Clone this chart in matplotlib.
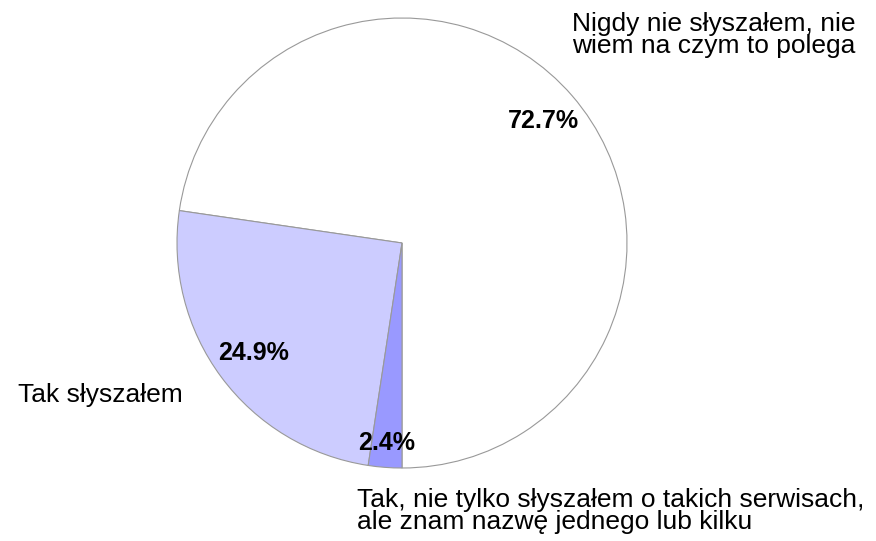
import numpy as np
import matplotlib
matplotlib.use("Agg")
import matplotlib.pyplot as plt

plt.rcParams['font.family'] = ['Liberation Sans', 'DejaVu Sans']

# dane
labels = ['Nigdy nie słyszałem, nie\nwiem na czym to polega',
          'Tak słyszałem',
          'Tak, nie tylko słyszałem o takich serwisach,\nale znam nazwę jednego lub kilku']
values = [72.7, 24.9, 2.4]
colors = ['#ffffff', '#ccccff', '#9999ff']

fig = plt.figure(figsize=(8.76, 5.41), dpi=100)
ax = fig.add_axes([0, 0, 1, 1])
ax.axis('off')

cx, cy, r = 402, 541 - 243, 225
wedges, texts, autotexts = ax.pie(values, colors=colors, startangle=-90, counterclock=True,
                                  center=(cx, cy), radius=r, autopct='%.1f%%',
                                  wedgeprops=dict(edgecolor='#999999', linewidth=0.8),
                                  textprops=dict(fontsize=18, fontweight='bold'))
ax.set_xlim(0, 876)
ax.set_ylim(0, 541)
ax.set_aspect('equal')

# pozycje procentów
dists = [0.83, 0.82, 0.89]
for w, t, d in zip(wedges, autotexts, dists):
    a = np.deg2rad((w.theta1 + w.theta2) / 2)
    t.set_position((cx + d * r * np.cos(a), cy + d * r * np.sin(a)))

# etykiety kategorii
pos = [(572, 541 - 35), (18, 541 - 395), (357, 541 - 511)]
for lab, (x, y) in zip(labels, pos):
    ax.text(x, y, lab, fontsize=19, ha='left', va='center', linespacing=0.85)

fig.savefig('out.png', dpi=100)
